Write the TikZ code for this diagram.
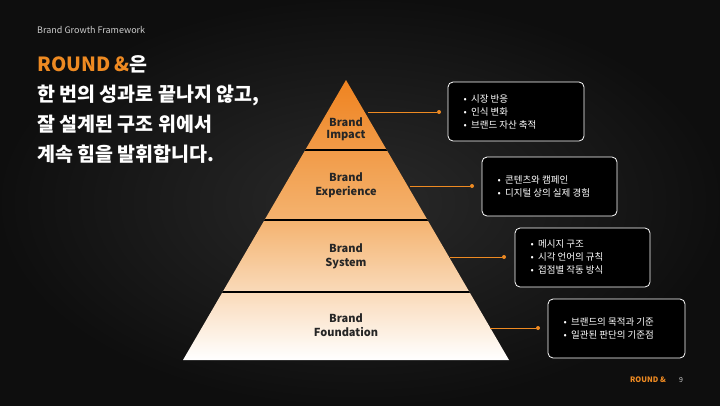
\documentclass[tikz,border=0pt]{standalone}
\usepackage{fontspec}
\setmainfont{Noto Sans CJK KR}
\usetikzlibrary{calc}
\definecolor{org}{HTML}{EE8A22}
\definecolor{bg}{HTML}{121212}
\tikzset{
  lay/.style={font=\fontsize{11}{13}\selectfont\bfseries, text=black!85, align=center},
  infobox/.style={draw=white, line width=0.8pt, rounded corners=5pt, fill=black},
  item/.style={font=\fontsize{9.5}{13}\selectfont, text=white, align=left, anchor=west},
  conn/.style={draw=org, line width=0.5pt},
  dot/.style={circle, fill=org, inner sep=0pt, minimum size=4pt},
  ttl/.style={font=\fontsize{19.5}{22}\selectfont\bfseries, text=white, anchor=base west, inner sep=0pt}
}
\begin{document}
\begin{tikzpicture}[x=1pt,y=-1pt]
\useasboundingbox (0,0) rectangle (720,405);
\shade[inner color=bg!90!white, outer color=bg!80!black] (0,0) rectangle (720,405);
% pyramid
\begin{scope}
\clip (346,80) -- (509,360) -- (183,360) -- cycle;
\shade[top color=org!95!red, bottom color=white, middle color=org!65!white] (183,80) rectangle (509,360);
\foreach \yy in {150,220,292} \draw[black, line width=2.5pt] (150,\yy) -- (540,\yy);
\end{scope}
\node[lay] (l1) at (346,129) {Brand\\[-1pt]Impact};
\node[lay] (l2) at (346,185) {Brand\\[1pt]Experience};
\node[lay] (l3) at (346,256) {Brand\\[1pt]System};
\node[lay] (l4) at (346,325) {Brand\\[1pt]Foundation};
% boxes
\draw[infobox] (448,82) rectangle (584,141);
\draw[infobox] (482,157) rectangle (617,216);
\draw[infobox] (515,228) rectangle (650,287);
\draw[infobox] (548,299) rectangle (685,358);
\node[item] (t1) at (460,112) {•\ \ 시장 반응\\•\ \ 인식 변화\\•\ \ 브랜드 자산 축적};
\node[item] (t2) at (494,186) {•\ \ 콘텐츠와 캠페인\\•\ \ 디지털 상의 실제 경험};
\node[item] (t3) at (527,257) {•\ \ 메시지 구조\\•\ \ 시각 언어의 규칙\\•\ \ 접점별 작동 방식};
\node[item] (t4) at (560,328) {•\ \ 브랜드의 목적과 기준\\•\ \ 일관된 판단의 기준점};
\coordinate (s1) at (368,112); \coordinate (s2) at (410,186);
\coordinate (s3) at (450,257); \coordinate (s4) at (490,328);
\node[dot] (d1) at (439,112) {}; \node[dot] (d2) at (472,186) {};
\node[dot] (d3) at (504,257) {}; \node[dot] (d4) at (538,328) {};
\draw[conn] (s1) -- (d1); \draw[conn] (s2) -- (d2);
\draw[conn] (s3) -- (d3); \draw[conn] (s4) -- (d4);
% title text
\node[font=\fontsize{9}{10}\selectfont, text=white!80!black, anchor=base west, inner sep=0pt] (h) at (37,33) {Brand Growth Framework};
\node[ttl] (a1) at (37,71) {\textcolor{org}{ROUND \&}은};
\node[ttl] (a2) at (37,101) {한 번의 성과로 끝나지 않고,};
\node[ttl] (a3) at (37,131) {잘 설계된 구조 위에서};
\node[ttl] (a4) at (37,161) {계속 힘을 발휘합니다.};
\node[font=\fontsize{7.5}{8}\selectfont\bfseries, text=org, anchor=base east, inner sep=0pt] (f1) at (666,382) {ROUND \&};
\node[font=\fontsize{7}{8}\selectfont, text=white!80!black, anchor=base, inner sep=0pt] (f2) at (681,382) {9};
\end{tikzpicture}
\end{document}
